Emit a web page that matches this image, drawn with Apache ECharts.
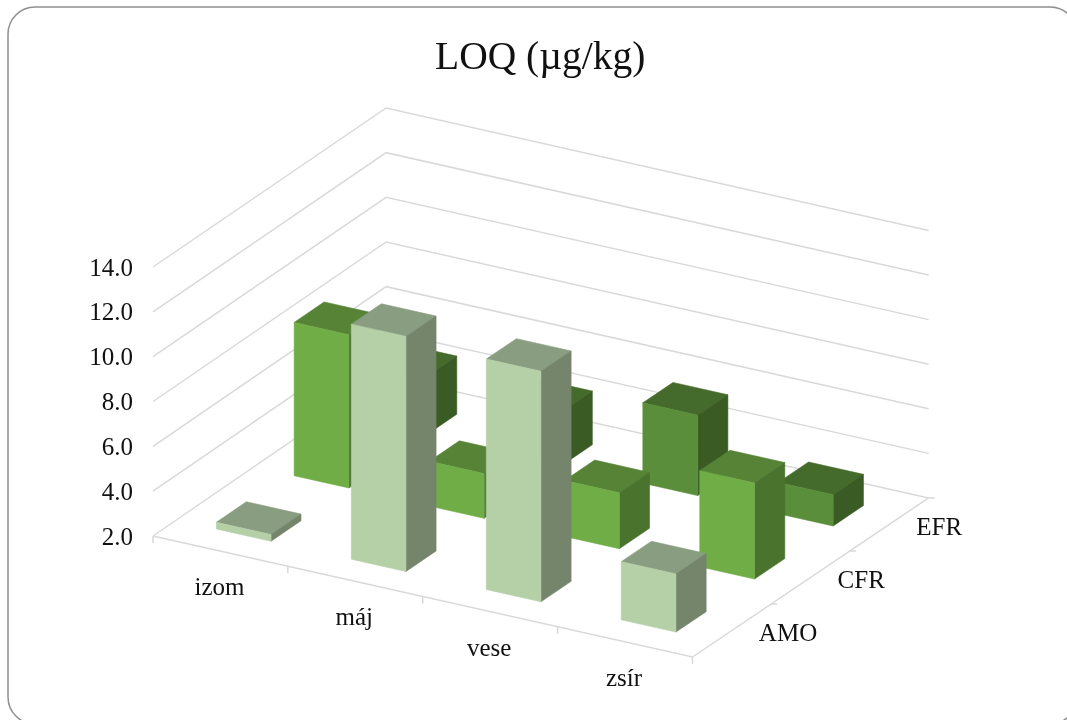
<!DOCTYPE html>
<html>
<head>
<meta charset="utf-8">
<style>html,body{margin:0;padding:0;background:#fff}#chart{width:1067px;height:720px}</style>
<script src="https://cdn.jsdelivr.net/npm/echarts@6/dist/echarts.min.js"></script>
</head>
<body>
<div id="chart"></div>
<script>
// LOQ values per tissue, one array per analyte
const tissues = ['izom', 'máj', 'vese', 'zsír'];
const analytes = ['AMO', 'CFR', 'EFR'];
const amoValues = [2.3, 12.5, 12.3, 4.6];
const cfrValues = [8.85, 4.0, 4.5, 6.3];
const efrValues = [4.6, 4.4, 5.6, 3.4];
const valueTicks = [2, 4, 6, 8, 10, 12, 14];

// Oblique projection with a slight perspective: the grid supplies the tissue
// and value scales, the depth axis is sheared on top of them
const DEPTH_X = 77.7, DEPTH_X_PER_TISSUE = 0.25;
const DEPTH_Y = -53.33, DEPTH_Y_PER_TISSUE = 0.08;
const TISSUE_SHEAR = 30.25;
const RISE_FADE_DEPTH = 0.0012, RISE_FADE_TISSUE = 0.0005;
const FLOOR_VALUE = 2;
const BAR_WIDTH = 0.405, BAR_DEPTH = 0.385;
const BAR_START_U = 0.297, BAR_START_V = 0.3;
const SERIF = '"Liberation Serif", serif';
const EDGE = '#d9d9d9';

const palettes = {
  AMO: { front: '#b5cfa7', top: '#899d81', side: '#74856b' },
  CFR: { front: '#70ad47', top: '#568336', side: '#4a732e' },
  EFR: { front: '#5b8e3a', top: '#446b2b', side: '#3a5c24' }
};

function project(api, u, v, value) {
  const p = api.coord([u, value]);
  const floorY = api.coord([u, FLOOR_VALUE])[1];
  const rise = (floorY - p[1]) * (1 - RISE_FADE_DEPTH * v - RISE_FADE_TISSUE * u);
  return [
    p[0] + v * (DEPTH_X + DEPTH_X_PER_TISSUE * u),
    floorY - rise + u * TISSUE_SHEAR + v * (DEPTH_Y + DEPTH_Y_PER_TISSUE * u)
  ];
}

function face(points, fill) {
  return {
    type: 'polygon',
    shape: { points: points },
    style: { fill: fill, stroke: fill, lineWidth: 0.6 }
  };
}

function line(points) {
  return {
    type: 'polyline',
    shape: { points: points },
    style: { fill: null, stroke: EDGE, lineWidth: 1.5 }
  };
}

function label(text, x, y, align) {
  return {
    type: 'text',
    style: {
      text: text, x: x, y: y, fill: '#111',
      font: '25px ' + SERIF, textAlign: align, textVerticalAlign: 'middle'
    }
  };
}

function renderWall(params, api) {
  const value = api.value(0);
  return line([project(api, 0, 0, value), project(api, 0, 3, value), project(api, 4, 3, value)]);
}

// Floor edges, axis ticks and the two floor-level category axes
function renderFrame(params, api) {
  const children = [line([project(api, 0, 0, FLOOR_VALUE), project(api, 4, 0, FLOOR_VALUE), project(api, 4, 3, FLOOR_VALUE)])];
  for (let i = 0; i <= tissues.length; i++) {
    const p = project(api, i, 0, FLOOR_VALUE);
    children.push(line([p, [p[0], p[1] + 7]]));
  }
  for (let j = 1; j <= analytes.length; j++) {
    const p = project(api, 4, j, FLOOR_VALUE);
    children.push(line([p, [p[0] + 6, p[1]]]));
  }
  tissues.forEach(function (name, i) {
    const p = project(api, i + 0.5, 0, FLOOR_VALUE);
    children.push(label(name, p[0] - 1, p[1] + 37.5, 'center'));
  });
  analytes.forEach(function (name, j) {
    const p = project(api, 4, j + 0.5, FLOOR_VALUE);
    children.push(label(name, p[0] + 27, p[1] + 4, 'left'));
  });
  return { type: 'group', children: children };
}

function barRenderer(colors, row) {
  return function (params, api) {
    const c = api.value(0);
    const value = api.value(1);
    const u0 = c + BAR_START_U, u1 = u0 + BAR_WIDTH;
    const v0 = row + BAR_START_V, v1 = v0 + BAR_DEPTH;
    return {
      type: 'group',
      children: [
        face([project(api, u0, v0, value), project(api, u1, v0, value),
              project(api, u1, v1, value), project(api, u0, v1, value)], colors.top),
        face([project(api, u1, v0, FLOOR_VALUE), project(api, u1, v1, FLOOR_VALUE),
              project(api, u1, v1, value), project(api, u1, v0, value)], colors.side),
        face([project(api, u0, v0, FLOOR_VALUE), project(api, u1, v0, FLOOR_VALUE),
              project(api, u1, v0, value), project(api, u0, v0, value)], colors.front)
      ]
    };
  };
}

function barSeries(name, values, row) {
  return {
    type: 'custom',
    name: name,
    clip: false,
    silent: true,
    renderItem: barRenderer(palettes[name], row),
    data: values.map(function (v, i) { return [i, v]; })
  };
}

const chart = echarts.init(document.getElementById('chart'), null, { renderer: 'canvas' });
chart.setOption({
  animation: false,
  backgroundColor: '#fff',
  title: {
    text: 'LOQ (µg/kg)',
    left: 435,
    top: 39,
    padding: 0,
    textStyle: { fontFamily: SERIF, fontSize: 39.5, fontWeight: 'normal', color: '#111' }
  },
  graphic: [{
    type: 'rect',
    silent: true,
    z: -1,
    shape: { x: 8, y: 7, width: 1069, height: 717, r: 27 },
    style: { fill: null, stroke: '#8f8f8f', lineWidth: 1.5 }
  }],
  // The first grid carries the marks, the second the value-axis labels
  grid: [
    { left: 153, top: 267, width: 539.5, height: 269 },
    { left: 153, top: 269, width: 539.5, height: 269 }
  ],
  xAxis: [
    { gridIndex: 0, type: 'value', min: 0, max: 4, interval: 1, show: false },
    { gridIndex: 1, type: 'value', min: 0, max: 4, interval: 1, show: false }
  ],
  yAxis: [
    { gridIndex: 0, type: 'value', min: FLOOR_VALUE, max: 14, interval: 2, show: false },
    {
      gridIndex: 1,
      type: 'value',
      min: FLOOR_VALUE,
      max: 14,
      interval: 2,
      axisLine: { show: false },
      axisTick: { show: false },
      splitLine: { show: false },
      axisLabel: {
        margin: 20,
        color: '#111',
        fontFamily: SERIF,
        fontSize: 25,
        formatter: function (v) { return v.toFixed(1); }
      }
    }
  ],
  series: [
    {
      type: 'custom', name: 'walls', clip: false, silent: true,
      renderItem: renderWall,
      data: valueTicks.map(function (v) { return [v]; })
    },
    {
      type: 'custom', name: 'frame', clip: false, silent: true,
      renderItem: renderFrame,
      data: [[0]]
    },
    barSeries('EFR', efrValues, 2),
    barSeries('CFR', cfrValues, 1),
    barSeries('AMO', amoValues, 0)
  ]
});
</script>
</body>
</html>
